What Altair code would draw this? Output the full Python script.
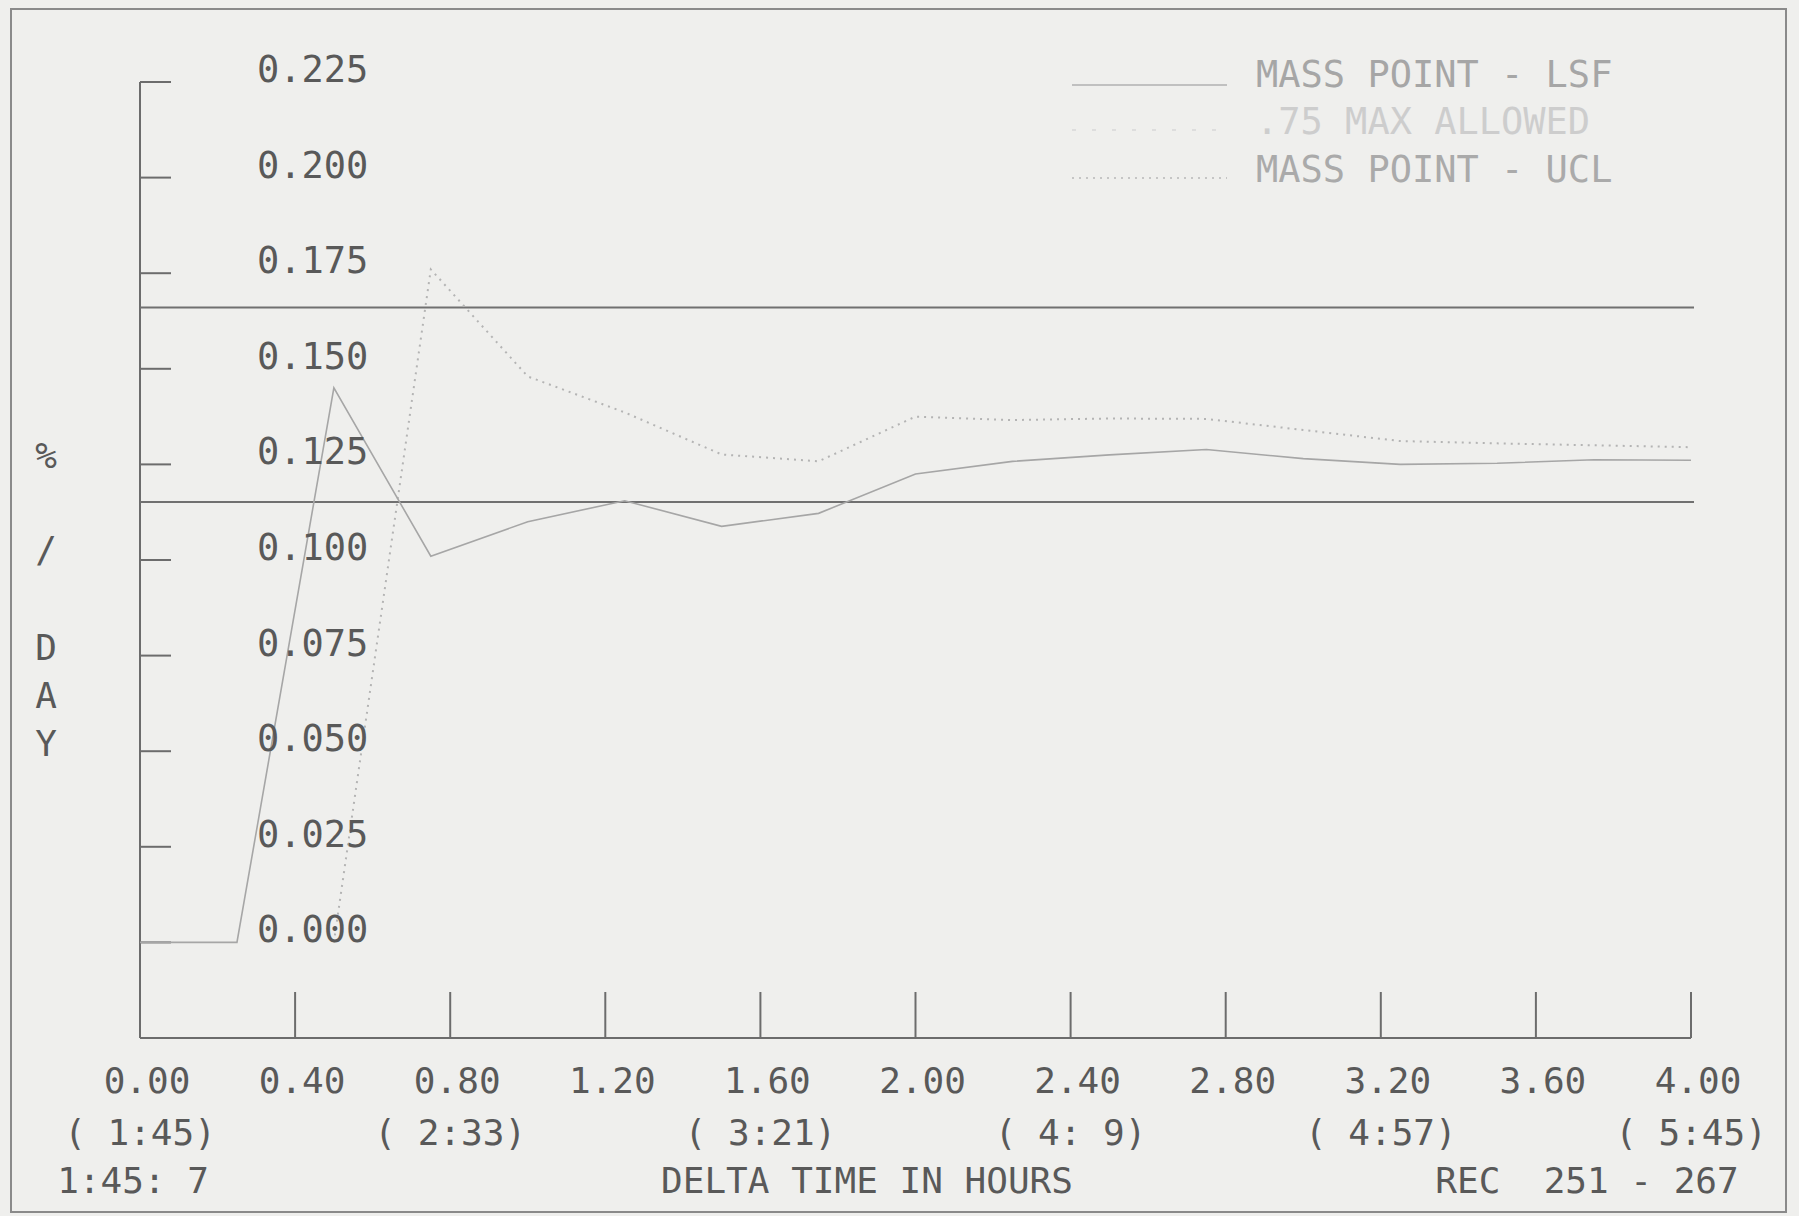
import altair as alt
import pandas as pd

# Records 251-267, one every 15 minutes (elapsed hours from 1:45)
hours = [0.00, 0.25, 0.50, 0.75, 1.00, 1.25, 1.50, 1.75, 2.00,
         2.25, 2.50, 2.75, 3.00, 3.25, 3.50, 3.75, 4.00]
# Mass point least-squares-fit leakage rate, %/day
lsf = [0.000, 0.000, 0.145, 0.101, 0.110, 0.1155, 0.1088, 0.1122, 0.1225,
       0.1258, 0.1275, 0.1289, 0.1265, 0.1250, 0.1253, 0.1262, 0.1261]
# Upper confidence limit, available from the third record on
ucl_hours = [0.50, 0.75, 1.00, 1.25, 1.50, 1.75, 2.00, 2.25,
             2.50, 2.75, 3.00, 3.25, 3.50, 3.75, 4.00]
ucl = [0.000, 0.176, 0.148, 0.1386, 0.1276, 0.1258, 0.1375, 0.1366,
       0.1370, 0.1369, 0.1340, 0.1311, 0.1305, 0.1300, 0.1295]
# Horizontal limit lines, %/day
limits = [0.1660, 0.1152]

y_ticks = [0.000, 0.025, 0.050, 0.075, 0.100, 0.125, 0.150, 0.175, 0.200, 0.225]
x_ticks = [0.0, 0.4, 0.8, 1.2, 1.6, 2.0, 2.4, 2.8, 3.2, 3.6, 4.0]
clock_hours = [0.0, 0.8, 1.6, 2.4, 3.2, 4.0]
clock_labels = ["( 1:45)", "( 2:33)", "( 3:21)", "( 4: 9)", "( 4:57)", "( 5:45)"]

legend_labels = ["MASS POINT - LSF", ".75 MAX ALLOWED", "MASS POINT - UCL"]
y_title = ["%", "/", "D", "A", "Y"]
footer = ["1:45: 7", "DELTA TIME IN HOURS", "REC\u00a0\u00a0251 - 267"]

W, H = 1551, 956
FONT = "DejaVu Sans Mono"
FS = 36
INK = "#595959"
AXIS = "#6c6c6c"

xs = alt.Scale(domain=[0, 4], nice=False, zero=False)
ys = alt.Scale(domain=[-0.025, 0.225], nice=False, zero=False)


def X(field="hours"):
    return alt.X(f"{field}:Q", scale=xs, axis=None)


def Y(field="rate"):
    return alt.Y(f"{field}:Q", scale=ys, axis=None)


lsf_df = pd.DataFrame({"hours": hours, "rate": lsf})
ucl_df = pd.DataFrame({"hours": ucl_hours, "rate": ucl})
lim_df = pd.DataFrame({"rate": limits})
xt_df = pd.DataFrame({"hours": x_ticks})
yt_df = pd.DataFrame({"rate": y_ticks})
clock_df = pd.DataFrame({"hours": clock_hours, "label": clock_labels})
one = alt.Data(values=[{}])

# outer frame of the printout
frame = alt.Chart(one).mark_rect(fill=None, stroke="#8a8a8a", strokeWidth=2).encode(
    x=alt.value(-129), x2=alt.value(1646), y=alt.value(-73), y2=alt.value(1130))

# axis lines
y_domain = alt.Chart(one).mark_rule(color=AXIS, strokeWidth=2).encode(
    x=alt.value(0), y=alt.value(0), y2=alt.value(H))
x_domain = alt.Chart(one).mark_rule(color=AXIS, strokeWidth=2).encode(
    x=alt.value(0), x2=alt.value(W), y=alt.value(H))

# y ticks pointing right, labels inside the plot
y_tick_marks = alt.Chart(yt_df).mark_rule(color=AXIS, strokeWidth=2).encode(
    y=Y(), x=alt.value(0), x2=alt.value(31))
y_tick_labels = alt.Chart(yt_df).mark_text(
    font=FONT, fontSize=37, color=INK, baseline="alphabetic", align="left").encode(
    y=Y(), x=alt.value(117), text=alt.Text("rate:Q", format=".3f"))

# x ticks pointing up into the plot, labels below the axis
x_tick_marks = alt.Chart(xt_df).mark_rule(color=AXIS, strokeWidth=2).encode(
    x=X(), y=alt.value(H - 46), y2=alt.value(H))
x_tick_labels = alt.Chart(xt_df).mark_text(
    font=FONT, fontSize=FS, color=INK, baseline="alphabetic", align="center",
    dx=7).encode(x=X(), y=alt.value(1011), text=alt.Text("hours:Q", format=".2f"))

clock_text = alt.Chart(clock_df).mark_text(
    font=FONT, fontSize=FS, color=INK, baseline="alphabetic", align="center").encode(
    x=X(), y=alt.value(1063), text="label:N")

footer_layers = [
    alt.Chart(one).mark_text(font=FONT, fontSize=FS, color=INK, baseline="alphabetic",
                             align="center").encode(
        x=alt.value(px), y=alt.value(1111), text=alt.value(t))
    for t, px in zip(footer, [-7, 727, 1447])
]

# vertical "% / DAY" title, one character per row
title_layers = [
    alt.Chart(one).mark_text(font=FONT, fontSize=FS, color=INK, baseline="alphabetic",
                             align="center").encode(
        x=alt.value(-94), y=alt.value(yy), text=alt.value(ch))
    for ch, yy in zip(y_title, [386, 480, 578, 626, 674])
]

limit_rules = alt.Chart(lim_df).mark_rule(color="#707070", strokeWidth=2).encode(
    y=Y(), x=alt.value(0), x2=alt.value(1554))

lsf_line = alt.Chart(lsf_df).mark_line(color="#a6a6a6", strokeWidth=1.6).encode(
    x=X(), y=Y())

ucl_line = alt.Chart(ucl_df).mark_line(color="#b4b4b4", strokeWidth=2,
                                       strokeDash=[2, 5]).encode(x=X(), y=Y())

# legend block, top right
legend_colors = ["#a6a6a6", "#cdcdcd", "#aaaaaa"]
legend_text = [
    alt.Chart(one).mark_text(font=FONT, fontSize=37, color=c, baseline="alphabetic",
                             align="left").encode(
        x=alt.value(1116), y=alt.value(yy), text=alt.value(t))
    for t, c, yy in zip(legend_labels, legend_colors, [5, 52, 100])
]
legend_samples = [
    alt.Chart(one).mark_rule(color="#b0b0b0", strokeWidth=1.6).encode(
        x=alt.value(932), x2=alt.value(1087), y=alt.value(3)),
    alt.Chart(one).mark_rule(color="#d8d8d8", strokeWidth=1.5, strokeDash=[4, 16]).encode(
        x=alt.value(932), x2=alt.value(1087), y=alt.value(48)),
    alt.Chart(one).mark_rule(color="#b8b8b8", strokeWidth=1.6, strokeDash=[2, 5]).encode(
        x=alt.value(932), x2=alt.value(1087), y=alt.value(96)),
]

chart = alt.layer(
    frame, y_domain, x_domain, y_tick_marks, x_tick_marks, limit_rules,
    ucl_line, lsf_line, y_tick_labels, x_tick_labels, clock_text,
    *title_layers, *footer_layers, *legend_text, *legend_samples
).properties(
    width=W, height=H,
    autosize=alt.AutoSizeParams(type="none"),
    padding={"left": 140, "top": 82, "right": 1799 - 140 - W, "bottom": 1216 - 82 - H},
    background="#efefed",
).configure_view(stroke=None)

chart.save("out.html", embed_options={"renderer": "svg", "actions": False})
